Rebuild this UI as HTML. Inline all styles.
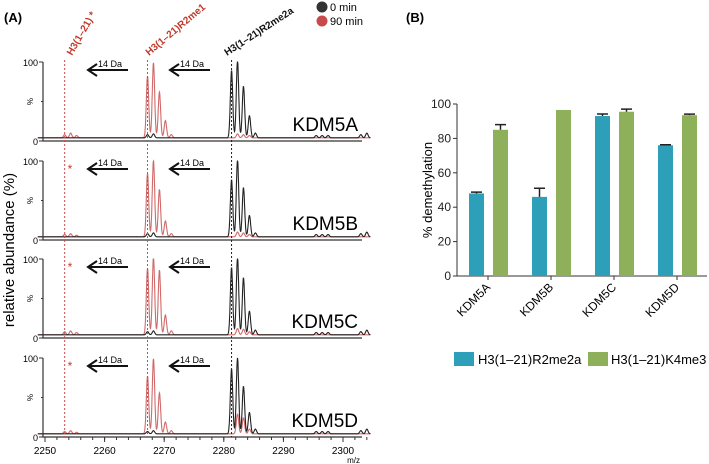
<!DOCTYPE html>
<html><head><meta charset="utf-8"><style>
body{margin:0;background:#fff}
svg{display:block;font-family:"Liberation Sans",sans-serif}
</style></head><body>
<svg id="fig" width="709" height="464" viewBox="0 0 709 464" xmlns="http://www.w3.org/2000/svg">
<text x="4" y="22" font-size="13" font-weight="bold">(A)</text>
<text x="406" y="22" font-size="13" font-weight="bold">(B)</text>
<g>
<circle cx="322" cy="7" r="5.5" fill="#333"/>
<text x="330" y="11" font-size="11">0 min</text>
<circle cx="322" cy="21" r="5.5" fill="#c94a4a"/>
<text x="330" y="25" font-size="11">90 min</text>
</g>
<text transform="translate(72,56) rotate(-60)" font-size="10" fill="#c0392b" font-weight="bold">H3(1–21) *</text>
<text transform="translate(149,56) rotate(-40)" font-size="10" fill="#c0392b" font-weight="bold">H3(1–21)R2me1</text>
<text transform="translate(227,56) rotate(-33)" font-size="10" fill="#111" font-weight="bold">H3(1–21)R2me2a</text>
<text transform="translate(14,250) rotate(-90)" text-anchor="middle" font-size="15">relative abundance (%)</text>
<g id="spectra"></g>
<g id="bars"></g>
</svg>
<script>
const NS="http://www.w3.org/2000/svg";
function mk(tag,attrs,parent,txt){const e=document.createElementNS(NS,tag);for(const k in attrs)e.setAttribute(k,attrs[k]);if(txt!==undefined)e.textContent=txt;parent.appendChild(e);return e;}
// ---- spectra data ----
const panelNames=["KDM5A","KDM5B","KDM5C","KDM5D"];
const blackMz=[2267.2,2268.2,2281.3,2282.3,2283.3,2284.3,2285.3,2295.5,2296.5,2297.5,2303,2304];
const blackH=[[4,5,85,98,65,28,6,3,3,3,4,6],[4,5,72,98,62,27,5,3,3,3,4,6],[4,5,85,98,72,30,6,3,3,3,4,6],[3,4,82,96,60,27,6,3,3,3,4,6]];
const redMz=[2253.3,2254.3,2255.3,2267.2,2268.2,2269.2,2270.2,2271.2,2282.3,2283.3,2284.3];
const redH=[[4,6,3,78,95,58,22,4,5,4,3],[3,4,2,80,97,60,20,4,6,5,3],[4,5,3,84,98,82,25,5,8,7,4],[3,4,2,73,95,52,15,4,25,20,6]];
const xTicks=[2250,2260,2270,2280,2290,2300];
const zeroY=[141,240,338,437], H=79;
const xm=m=>45+(m-2250)*5.96;
const sp=document.getElementById("spectra");
function trace(mz,h,p){let pts=[];for(let m=2248.8;m<=2304.6;m+=0.04){let v=4;for(let i=0;i<mz.length;i++){v+=h[i]*Math.exp(-Math.pow((m-mz[i])/0.2,2)/2);}pts.push(xm(m).toFixed(1)+","+(zeroY[p]-Math.min(v,100)*H/100).toFixed(1));}return pts.join(" ");}
for(let p=0;p<4;p++){
 const g=mk("g",{},sp);
 
 
 const z=zeroY[p];
 const ax=mk("path",{d:`M43 ${z-H} V${z} H362`,stroke:"#333",fill:"none","stroke-width":"1.2"},g);
 
 
 mk("path",{d:`M39 ${z-H} H43 M39 ${z} H43 M41 ${z-H/2} H43`,stroke:"#333"},g);
 const t1=mk("text",{x:38,y:z-H+4,"font-size":"9","text-anchor":"end"},g,"100");
 
 
 const t0=mk("text",{x:38,y:z+4,"font-size":"9","text-anchor":"end"},g,"0");
 
 
 mk("text",{transform:`translate(33,${z-H/2}) rotate(-90)`,"font-size":"8","text-anchor":"middle"},g,"%");
 const rl=mk("polyline",{points:trace(redMz,redH[p],p),fill:"none",stroke:"#d06a6a","stroke-width":"1.1"},g);
 
 
 const bl=mk("polyline",{points:trace(blackMz,blackH[p],p),fill:"none",stroke:"#222","stroke-width":"1.1"},g);
 
 
 const nm=mk("text",{x:358,y:z-10,"font-size":"19","text-anchor":"end"},g,panelNames[p]);
 
 
 [[88,128],[170,210]].forEach(a=>{
  const y=z-H+8;
  const ar=mk("path",{d:`M${a[1]} ${y} H${a[0]+2} M${a[0]+9} ${y-6} L${a[0]} ${y} L${a[0]+9} ${y+6}`,stroke:"#111","stroke-width":"2",fill:"none"},g);
  
  
  mk("text",{x:a[0]+10,y:y-3,"font-size":"9"},g,"14 Da");
 });
 if(p>0){const s=mk("text",{x:70,y:z-H+12,"font-size":"12",fill:"#c0392b","text-anchor":"middle"},g,"*");
  }
}
[[2253.3,"#c94a4a"],[2267.2,"#c94a4a"],[2281.3,"#222"]].forEach(d=>{
 const l=mk("line",{x1:xm(d[0]),x2:xm(d[0]),y1:60,y2:437,stroke:d[1],"stroke-dasharray":"2,2","stroke-width":"1"},sp);
 
 
});
xTicks.forEach(t=>{
 mk("line",{x1:xm(t),x2:xm(t),y1:437,y2:442,stroke:"#333"},sp);
 const tl=mk("text",{x:xm(t),y:454,"font-size":"10","text-anchor":"middle"},sp,String(t));
 
 
});
for(let m=2250;m<=2304;m+=2){mk("line",{x1:xm(m),x2:xm(m),y1:437,y2:440,stroke:"#333"},sp);}
const mzl=mk("text",{x:360,y:463,"font-size":"8","text-anchor":"end"},sp,"m/z");



// ---- bar chart data ----
const cats=["KDM5A","KDM5B","KDM5C","KDM5D"];
const r2Vals=[48,46,93,76];
const r2Err=[0.8,5,1.2,0.3];
const k4Vals=[85,96.5,95.5,93.5];
const k4Err=[3,0,1.5,0.6];
const yTicks=[0,20,40,60,80,100];
const bg=document.getElementById("bars");
const y0=276,yScale=1.72;
const by=v=>y0-v*yScale;
const cx=i=>488+i*63;
const BLUE="#2e9fb8",GREEN="#8fb05a";
mk("line",{x1:457,x2:457,y1:by(100),y2:y0,stroke:"#333"},bg);
const xa=mk("line",{x1:457,x2:707,y1:y0,y2:y0,stroke:"#333"},bg);


yTicks.forEach(t=>{
 mk("line",{x1:453,x2:457,y1:by(t),y2:by(t),stroke:"#333"},bg);
 const tl=mk("text",{x:451,y:by(t)+4,"font-size":"12","text-anchor":"end",fill:"#222"},bg,String(t));
 
 
});
const yt=mk("text",{transform:"translate(432,190) rotate(-90)","font-size":"13","text-anchor":"middle"},bg,"% demethylation");


function bar(x,v,e,col,name){
 const r=mk("rect",{x:x,y:by(v),width:15,height:v*yScale,fill:col},bg);
 
 
 if(e>0){mk("path",{d:`M${x+7.5} ${by(v)} V${by(v+e)} M${x+2} ${by(v+e)} H${x+13}`,stroke:"#222","stroke-width":"1.5",fill:"none"},bg);}
}
cats.forEach((c,i)=>{
 bar(cx(i)-19,r2Vals[i],r2Err[i],BLUE,'bar-r2me2a-'+c.toLowerCase());
 bar(cx(i)+5,k4Vals[i],k4Err[i],GREEN,'bar-k4me3-'+c.toLowerCase());
 mk("line",{x1:cx(i),x2:cx(i),y1:y0,y2:y0+4,stroke:"#333"},bg);
 const l=mk("text",{transform:`translate(${cx(i)+3},${y0+12}) rotate(-45)`,"font-size":"12","text-anchor":"end"},bg,c);
 
 
});
const lg=mk("g",{},bg);


mk("rect",{x:454,y:352,width:20,height:14,fill:BLUE},lg);
mk("text",{x:478,y:364,"font-size":"13"},lg,"H3(1–21)R2me2a");
mk("rect",{x:588,y:352,width:20,height:14,fill:GREEN},lg);
mk("text",{x:611,y:364,"font-size":"13"},lg,"H3(1–21)K4me3");
</script>
</body></html>
